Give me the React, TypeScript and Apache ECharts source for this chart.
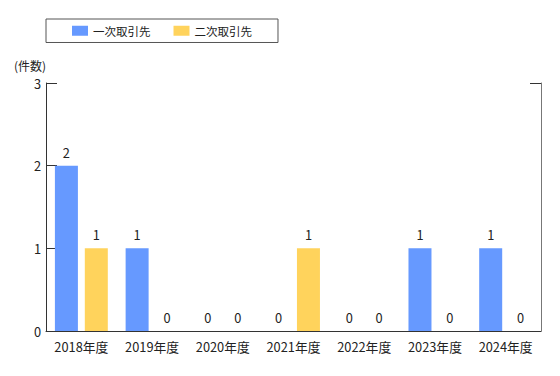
import React, { useEffect, useRef } from "react";
import * as echarts from "echarts";

const categories = ["2018年度", "2019年度", "2020年度", "2021年度", "2022年度", "2023年度", "2024年度"];
const primary = [2, 1, 0, 0, 0, 1, 1];
const secondary = [1, 0, 0, 1, 0, 0, 0];
const seriesNames = ["一次取引先", "二次取引先"];
const yName = "(件数)";

const FONT = "'Noto Sans CJK JP', 'Noto Sans', sans-serif";

export default function App() {
  const ref = useRef<HTMLDivElement>(null);
  useEffect(() => {
    if (!ref.current) return;
    const chart = echarts.init(ref.current, null, { renderer: "svg" });
    chart.setOption({
      animation: false,
      textStyle: { fontFamily: FONT, color: "#222" },
      legend: {
        left: 46,
        top: 19,
        padding: [6, 26, 6, 26],
        itemGap: 23,
        itemWidth: 16,
        itemHeight: 10,
        borderColor: "#555",
        borderWidth: 1,
        borderRadius: 0,
        icon: "rect",
        textStyle: { fontSize: 11.5, color: "#222", fontFamily: FONT },
        data: seriesNames,
      },
      grid: { left: 46, right: 19, top: 83, bottom: 45, containLabel: false },
      xAxis: {
        type: "category",
        data: categories,
        axisLine: { lineStyle: { color: "#333", width: 1 } },
        axisTick: { inside: true, length: 7, lineStyle: { color: "#333" } },
        axisLabel: { fontSize: 12.8, color: "#222", margin: 9, fontFamily: FONT },
      },
      yAxis: [
        {
          type: "value",
          min: 0,
          max: 3,
          interval: 1,
          name: yName,
          nameLocation: "end",
          nameGap: 12,
          nameTextStyle: { align: "right", fontSize: 12, lineHeight: 12, color: "#222", fontFamily: FONT },
          axisLine: { show: true, lineStyle: { color: "#333", width: 1 } },
          axisTick: { show: true, inside: true, length: 11, lineStyle: { color: "#333" } },
          axisLabel: { fontSize: 12.8, lineHeight: 13, color: "#222", margin: 5, fontFamily: FONT },
          splitLine: { show: false },
        },
        {
          type: "value",
          position: "right",
          min: 0,
          max: 3,
          interval: 3,
          axisLine: { show: true, lineStyle: { color: "#777", width: 1 } },
          axisTick: { show: true, inside: true, length: 11, lineStyle: { color: "#333" } },
          axisLabel: { show: false },
          splitLine: { show: false },
        },
      ],
      series: [
        {
          name: seriesNames[0],
          type: "bar",
          data: primary,
          barWidth: 23,
          barGap: "30%",
          itemStyle: { color: "#6699ff" },
          label: { show: true, position: "top", distance: 7, fontSize: 12.8, color: "#222", fontFamily: FONT },
        },
        {
          name: seriesNames[1],
          type: "bar",
          data: secondary,
          barWidth: 23,
          barGap: "30%",
          itemStyle: { color: "#ffd35c" },
          label: { show: true, position: "top", distance: 7, fontSize: 12.8, color: "#222", fontFamily: FONT },
        },
      ],
    });
    return () => chart.dispose();
  }, []);
  return <div ref={ref} style={{ width: 560, height: 376, margin: -8 }} />;
}
